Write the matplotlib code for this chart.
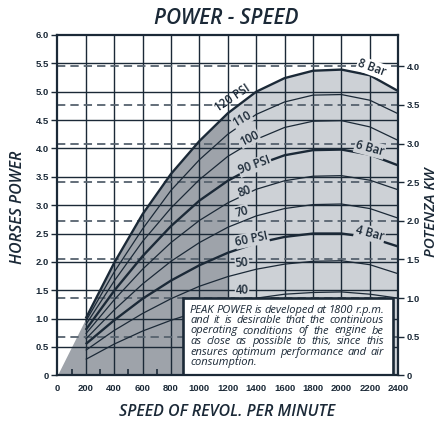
import matplotlib
matplotlib.use("Agg")
import matplotlib.pyplot as plt
from matplotlib.patches import Rectangle

# ---------------- data ----------------
rpm = [200, 400, 600, 800, 1000, 1200, 1400, 1600, 1800, 2000, 2200, 2400]
psi_levels = [40, 50, 60, 70, 80, 90, 100, 110, 120]
hp_40 = [0.28, 0.55, 0.78, 0.97, 1.13, 1.26, 1.36, 1.43, 1.46, 1.47, 1.43, 1.36]
hp_50 = [0.44, 0.79, 1.09, 1.35, 1.57, 1.74, 1.87, 1.96, 2.01, 2.02, 1.95, 1.79]
hp_60 = [0.55, 0.97, 1.35, 1.67, 1.94, 2.16, 2.33, 2.44, 2.50, 2.50, 2.43, 2.27]
hp_70 = [0.64, 1.15, 1.61, 2.01, 2.34, 2.61, 2.81, 2.94, 3.01, 3.02, 2.94, 2.77]
hp_80 = [0.73, 1.33, 1.87, 2.34, 2.73, 3.04, 3.28, 3.43, 3.51, 3.52, 3.44, 3.27]
hp_90 = [0.80, 1.49, 2.10, 2.63, 3.08, 3.43, 3.70, 3.88, 3.97, 3.98, 3.89, 3.70]
hp_100 = [0.89, 1.66, 2.36, 2.95, 3.45, 3.86, 4.16, 4.37, 4.48, 4.49, 4.38, 4.14]
hp_110 = [0.95, 1.82, 2.58, 3.26, 3.80, 4.25, 4.60, 4.82, 4.94, 4.95, 4.85, 4.61]
hp_120 = [1.00, 1.98, 2.84, 3.55, 4.13, 4.62, 5.00, 5.24, 5.37, 5.39, 5.29, 5.01]
curves = [hp_40, hp_50, hp_60, hp_70, hp_80, hp_90, hp_100, hp_110, hp_120]
bold_levels = [60, 90, 120]

curve_label_text = ["40", "50", "60 PSI", "70", "80", "90 PSI", "100", "110", "120 PSI"]
bar_label_text = ["4 Bar", "6 Bar", "8 Bar"]

x_ticks = [0, 200, 400, 600, 800, 1000, 1200, 1400, 1600, 1800, 2000, 2200, 2400]
hp_ticks = [0, 0.5, 1.0, 1.5, 2.0, 2.5, 3.0, 3.5, 4.0, 4.5, 5.0, 5.5, 6.0]
kw_ticks = [0, 0.5, 1.0, 1.5, 2.0, 2.5, 3.0, 3.5, 4.0]
KW_TO_HP = 1.362

note_lines = [
    "PEAK POWER is developed at 1800 r.p.m.",
    "and it is desirable that the continuous",
    "operating conditions of the engine be",
    "as close as possible to this, since this",
    "ensures optimum performance and air",
    "consumption.",
]

# ---------------- style ----------------
NAVY = "#1b2937"
DASH = "#56626e"
DARK_FILL = "#9ea3aa"
LIGHT_FILL = "#cdd1d6"
FONT = ["Open Sans", "DejaVu Sans"]
TICKFONT = ["Liberation Sans", "DejaVu Sans"]

W, H = 438, 423
fig = plt.figure(figsize=(W / 100, H / 100), dpi=100)
ax = fig.add_axes([57.3 / W, 1 - 375.3 / H, 341 / W, 340.3 / H])
ax.set_xlim(0, 2400)
ax.set_ylim(0, 6.0)

# gray areas under the 120 PSI envelope
bx = [0] + rpm
by = [0] + hp_120
split = 1200
i_split = bx.index(split)
ax.fill_between(bx[: i_split + 1], 0, by[: i_split + 1], color=DARK_FILL, lw=0, zorder=0.5)
ax.fill_between(bx[i_split:], 0, by[i_split:], color=LIGHT_FILL, lw=0, zorder=0.5)

# grid
for xv in x_ticks[1:-1]:
    ax.axvline(xv, color=NAVY, lw=1.0, zorder=1)
for yv in hp_ticks[1:-1]:
    ax.axhline(yv, color=NAVY, lw=1.0, zorder=1)
for kv in kw_ticks[1:]:
    ax.axhline(kv * KW_TO_HP, color=DASH, lw=1.3, ls=(0, (4.6, 2.8)), zorder=1.5)

# curves
for lvl, hp in zip(psi_levels, curves):
    ax.plot(rpm, hp, color=NAVY, lw=1.7 if lvl in bold_levels else 0.9,
            solid_capstyle="butt", solid_joinstyle="round", zorder=2)

# curve labels (x, y, rotation)
lab_pos = [(1300, 1.50, 3), (1300, 1.99, 6), (1370, 2.40, 12), (1300, 2.88, 15),
           (1315, 3.24, 20), (1390, 3.70, 20), (1350, 4.18, 26), (1300, 4.52, 30),
           (1232, 4.89, 34)]
for txt, (lx, ly, rot), lvl in zip(curve_label_text, lab_pos, psi_levels):
    bg = "white" if lvl == 120 else LIGHT_FILL
    ax.text(lx, ly, txt, rotation=rot, ha="center", va="center", fontsize=8.3,
            family=FONT, color=NAVY, weight="semibold", zorder=3,
            rotation_mode="anchor",
            bbox=dict(boxstyle="square,pad=0.05", fc=bg, ec="none") if lvl != 120 else None)
bar_pos = [(2200, 2.50, -15), (2200, 4.00, -15), (2215, 5.42, -20)]
for txt, (lx, ly, rot), bg in zip(bar_label_text, bar_pos, [LIGHT_FILL, LIGHT_FILL, "white"]):
    ax.text(lx, ly, txt, rotation=rot, ha="center", va="center", fontsize=8.3,
            family=FONT, color=NAVY, weight="semibold", zorder=3, rotation_mode="anchor",
            bbox=dict(boxstyle="square,pad=0.1", fc=bg, ec="none"))

# axes ticks
ax.set_xticks(x_ticks)
ax.set_xticklabels([str(v) for v in x_ticks])
ax.set_xticks([v + 100 for v in x_ticks[:-1]], minor=True)
ax.set_yticks(hp_ticks)
ax.set_yticklabels(["0" if v == 0 else f"{v:.1f}" for v in hp_ticks])
ax.tick_params(axis="x", which="major", length=0, pad=6, colors=NAVY, labelsize=6.8)
ax.tick_params(axis="x", which="minor", direction="in", length=4, width=1.2, color=NAVY)
ax.tick_params(axis="y", length=4, width=1.0, pad=2, colors=NAVY, labelsize=6.8)
for lab in ax.get_xticklabels() + ax.get_yticklabels():
    lab.set_family(TICKFONT)
    lab.set_weight("bold")
for sp in ax.spines.values():
    sp.set_color(NAVY)
    sp.set_linewidth(1.6)
    sp.set_zorder(6)

ax2 = ax.twinx()
ax2.set_ylim(0, 6.0)
ax2.set_yticks([k * KW_TO_HP for k in kw_ticks])
ax2.set_yticklabels(["0" if k == 0 else f"{k:.1f}" for k in kw_ticks])
ax2.tick_params(axis="y", length=4, width=1.0, pad=2, colors=NAVY, labelsize=6.8)
for lab in ax2.get_yticklabels():
    lab.set_family(TICKFONT)
    lab.set_weight("bold")
for sp in ax2.spines.values():
    sp.set_visible(False)

# note box
box = Rectangle((883, 0), 1481, 1.37, fc="white", ec=NAVY, lw=1.9, zorder=4)
ax.add_patch(box)

# titles
fig.text(226.7 / W, 1 - 18 / H, "POWER - SPEED", ha="center", va="center",
         fontsize=15, style="italic", weight="semibold", family=FONT, color=NAVY)
fig.text(18 / W, 1 - 207 / H, "HORSES POWER", ha="center", va="center", rotation=90,
         fontsize=11.5, style="italic", weight="semibold", family=FONT, color=NAVY)
fig.text(431 / W, 1 - 212 / H, "POTENZA KW", ha="center", va="center", rotation=90,
         fontsize=11, style="italic", weight="semibold", family=FONT, color=NAVY)
fig.text(226.7 / W, 1 - 412 / H, "SPEED OF REVOL. PER MINUTE", ha="center", va="center",
         fontsize=11.5, style="italic", weight="semibold", family=FONT, color=NAVY)

# justified note text
fig.canvas.draw()
rend = fig.canvas.get_renderer()
left_px, right_px = 190.0, 384.0
note_kw = dict(fontsize=8.0, style="italic", family=FONT, color=NAVY, va="baseline",
               ha="left", zorder=7)
for i, line in enumerate(note_lines):
    ybase = 312.5 + i * 10.5
    words = line.split()
    if i == len(note_lines) - 1:
        fig.text(left_px / W, 1 - ybase / H, line, **note_kw)
        continue
    widths = []
    for w in words:
        t = fig.text(0, 0, w, **note_kw)
        widths.append(t.get_window_extent(rend).width)
        t.remove()
    gap = (right_px - left_px - sum(widths)) / (len(words) - 1)
    x = left_px
    for w, wd in zip(words, widths):
        fig.text(x / W, 1 - ybase / H, w, **note_kw)
        x += wd + gap

fig.savefig("out.png", dpi=100)
